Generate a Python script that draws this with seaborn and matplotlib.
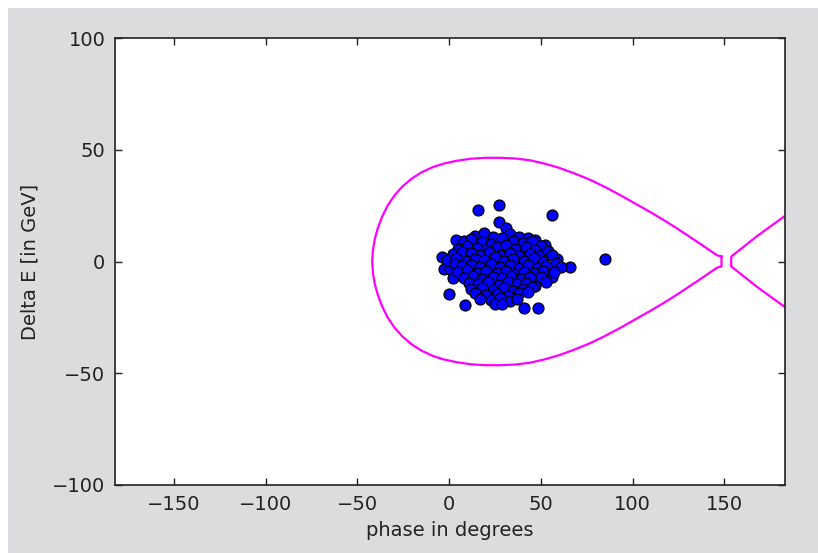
import matplotlib
matplotlib.use('Agg')
import matplotlib.pyplot as plt
import seaborn as sns
from matplotlib.patches import Rectangle

# Particle positions in longitudinal phase space (phase in deg, Delta E in GeV)
phase = [16, 27, 56, 85, -4, 0, 8.5, 41, 48.5, 4, -3, 0.5, 2, 27, 31, 66, 59, 52, 56,
         14, 19, 24, 33, 38, 43, 47,
         8, 12, 18, 23, 29, 35, 40, 45, 50,
         5, 10, 15, 20, 26, 31, 36, 42, 47, 54,
         2, 7, 12, 17, 22, 28, 33, 38, 44, 49, 56,
         -1, 4, 9, 14, 19, 25, 30, 35, 41, 46, 51, 58,
         3, 7, 12, 17, 23, 28, 33, 38, 43, 48, 53, 61,
         5, 10, 15, 20, 26, 31, 36, 41, 46, 51, 57,
         8, 13, 18, 24, 29, 34, 39, 44, 50,
         11, 16, 21, 27, 32, 37, 42, 47, 53,
         12, 18, 24, 30, 35, 40, 45,
         14, 20, 26, 32, 38, 43,
         17, 23, 28, 33, 37,
         25, 29]
delta_e = [23, 25.5, 21, 1, 2, -14.5, -19.5, -21, -21, 9.5, -3.5, -3.5, -7.5, 17.5, 15, -2.5, 1, 7.5, -7,
           11.5, 12.8, 10.9, 12.3, 11.0, 10.5, 9.8,
           9.2, 10.1, 8.6, 7.9, 10.4, 9.0, 8.2, 9.3, 6.8,
           5.6, 6.9, 6.1, 5.2, 6.6, 7.2, 5.8, 6.4, 5.1, 4.8,
           3.2, 4.1, 3.6, 2.8, 4.4, 3.0, 3.9, 2.6, 3.4, 2.5, 3.1,
           0.6, 1.4, 0.3, 1.0, 0.7, 1.8, 0.2, 1.1, 0.4, 1.5, -0.3, -0.5,
           -1.2, -2.1, -1.5, -2.6, -1.0, -2.3, -1.4, -2.8, -1.6, -2.9, -1.8, -2.4,
           -4.8, -4.0, -5.2, -4.3, -5.0, -4.1, -5.4, -4.6, -5.1, -4.2, -4.9,
           -7.2, -6.6, -7.9, -6.8, -7.5, -6.3, -7.7, -7.0, -6.9,
           -9.4, -10.2, -9.0, -10.5, -9.3, -10.0, -9.6, -10.8, -9.1,
           -12.3, -11.8, -12.6, -12.0, -13.1, -12.2, -11.5,
           -14.2, -15.0, -14.6, -15.3, -14.1, -13.8,
           -16.8, -17.4, -16.5, -17.6, -16.9,
           -18.8, -19.0]

# Separatrix of the bucket, upper half right -> left
sep_phase_upper = [148.4, 146, 142, 137, 131, 124, 117, 109.4, 101, 93, 85, 76.7, 68,
                   60, 52, 44, 36, 27.7, 20, 12, 4.5, -2.5, -9, -15, -20.5, -25.5,
                   -29.8, -33.5, -36.5, -38.8, -40.5, -41.5, -41.9]
sep_de_upper = [2.2, 2.8, 5.0, 7.8, 11.1, 14.9, 18.5, 22.2, 26.1, 29.8, 33.3, 36.6, 39.5,
                41.9, 43.8, 45.3, 46.1, 46.4, 46.4, 46.0, 45.1, 43.9, 42.2, 39.9, 37.0, 33.5,
                29.5, 25.0, 20.0, 15.0, 10.0, 5.0, 0.0]
# lower half left -> right
sep_phase_lower = [-41.5, -40.5, -38.8, -36.5, -33.5, -29.8, -25.5, -20.5, -15, -9, -2.5,
                   4.5, 12, 20, 27.7, 36, 44, 52, 60, 68, 76.7, 85, 93, 101, 109.4, 117,
                   124, 131, 137, 142, 146, 148.4]
sep_de_lower = [-5.0, -10.0, -15.0, -20.0, -25.0, -29.5, -33.5, -37.0, -39.9, -42.2, -43.9,
                -45.1, -46.0, -46.4, -46.4, -46.1, -45.3, -43.8, -41.9, -39.5, -36.6, -33.3,
                -29.8, -26.1, -22.2, -18.5, -14.9, -11.1, -7.8, -5.0, -2.8, -2.2]

# Neighbouring bucket entering at the right edge
next_phase = [186, 168, 153.7, 153.7, 168, 186]
next_de = [22.2, 11.5, 2.2, -2.2, -11.5, -22.2]

plt.rcParams['font.family'] = ['DejaVu Sans']
plt.rcParams['font.size'] = 14

fig = plt.figure(figsize=(8.18, 5.53), dpi=100)
fig.patch.set_facecolor('white')
fig.add_artist(Rectangle((8 / 818, 0), 1, 1 - 8 / 553, transform=fig.transFigure,
                         facecolor='#dcdbdd', edgecolor='none', zorder=-10))
ax = fig.add_axes([115 / 818, 68 / 553, 670 / 818, 447 / 553])
ax.set_facecolor('white')

sep_x = sep_phase_upper + sep_phase_lower + [sep_phase_upper[0]]
sep_y = sep_de_upper + sep_de_lower + [sep_de_upper[0]]
sns.lineplot(x=sep_x, y=sep_y, sort=False, estimator=None, color='#ff00ff',
             linewidth=1.6, ax=ax)
sns.lineplot(x=next_phase, y=next_de, sort=False, estimator=None, color='#ff00ff',
             linewidth=1.6, ax=ax)

sns.scatterplot(x=phase, y=delta_e, s=62, color='#0000ff', edgecolor='black',
                linewidth=0.9, ax=ax, zorder=3)

ax.set_xlim(-182, 183)
ax.set_ylim(-100, 100)
ax.set_xticks([-150, -100, -50, 0, 50, 100, 150])
ax.set_yticks([-100, -50, 0, 50, 100])
ax.tick_params(direction='in', length=5, width=1, top=True, right=True, pad=7,
               labelsize=14, colors='#222222')
for sp in ax.spines.values():
    sp.set_linewidth(1.2)
    sp.set_color('#222222')
ax.set_xlabel('phase in degrees', fontsize=14, color='#222222', labelpad=5)
ax.set_ylabel('Delta E [in GeV]', fontsize=14, color='#222222', labelpad=9)

fig.savefig('out.png', dpi=100, facecolor=fig.get_facecolor())
